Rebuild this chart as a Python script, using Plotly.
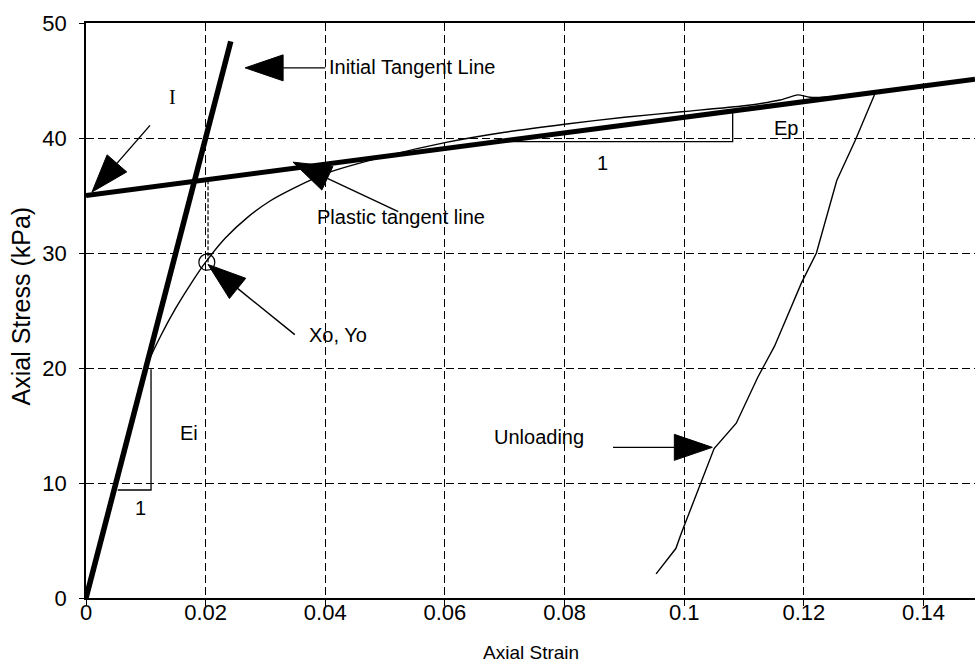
import plotly.graph_objects as go

# ---- data -------------------------------------------------------------
# measured stress-strain (loading branch)
load_strain = [0, 0.0100, 0.0125, 0.0150, 0.0175, 0.0200, 0.0233, 0.0270, 0.0307,
               0.0350, 0.0400, 0.0500, 0.0600, 0.0700, 0.0800, 0.0900, 0.1000,
               0.1100, 0.1160, 0.1190, 0.1210, 0.1250, 0.1320]
load_stress = [0, 20.0, 22.8, 25.2, 27.3, 29.2, 31.3, 33.1, 34.5,
               35.7, 36.9, 38.4, 39.6, 40.5, 41.2, 41.8, 42.3,
               42.8, 43.3, 43.75, 43.55, 43.6, 44.0]

# unloading branch
unload_strain = [0.1320, 0.1286, 0.1255, 0.1221, 0.1196, 0.1151, 0.1123, 0.1087,
                 0.1050, 0.1028, 0.0995, 0.0986, 0.0953]
unload_stress = [44.0, 39.8, 36.3, 30.0, 27.4, 21.9, 19.2, 15.2,
                 13.0, 10.1, 5.6, 4.3, 2.1]

# tangent lines
Ei = 2000.0          # initial tangent modulus (kPa)
Ei_end_strain = 0.0242
Ep = 68.0            # plastic tangent modulus (kPa)
Ep_intercept = 35.0  # stress intercept of plastic tangent (kPa)

# yield point (Xo, Yo)
xo, yo = 0.0202, 29.2

# slope triangles
ei_tri_x = [0.0053, 0.01087, 0.01087]
ei_tri_y = [9.39, 9.39, 19.9]
ep_tri_x = [0.0688, 0.1081, 0.1081]
ep_tri_y = [39.68, 39.68, 42.35]

x_ticks = [0, 0.02, 0.04, 0.06, 0.08, 0.1, 0.12, 0.14]
x_tick_text = ["0", "0.02", "0.04", "0.06", "0.08", "0.1", "0.12", "0.14"]
y_ticks = [0, 10, 20, 30, 40, 50]

# ---- layout geometry ---------------------------------------------------
W, H = 975, 665
ML, MR, MT, MB = 86, 0, 23, 67
XMAX = 0.14861
YMAX = 50.0
PW, PH = W - ML - MR, H - MT - MB


def to_px(x, y):
    return ML + x / XMAX * PW, MT + (1 - y / YMAX) * PH


def to_data(px, py):
    return (px - ML) / PW * XMAX, (1 - (py - MT) / PH) * YMAX


FONT = "Liberation Sans, Arial, sans-serif"

fig = go.Figure()

# initial tangent line
fig.add_trace(go.Scatter(x=[0, Ei_end_strain], y=[0, Ei * Ei_end_strain],
                         mode="lines", line=dict(color="black", width=5.5),
                         hoverinfo="skip"))
# plastic tangent line
fig.add_trace(go.Scatter(x=[0, XMAX], y=[Ep_intercept, Ep_intercept + Ep * XMAX],
                         mode="lines", line=dict(color="black", width=5),
                         hoverinfo="skip"))
# measured curve: loading (smoothed) and unloading
fig.add_trace(go.Scatter(x=load_strain, y=load_stress, mode="lines",
                         line=dict(color="black", width=1.4, shape="spline", smoothing=0.6),
                         hoverinfo="skip"))
fig.add_trace(go.Scatter(x=unload_strain, y=unload_stress, mode="lines",
                         line=dict(color="black", width=1.4), hoverinfo="skip"))
# slope triangles
fig.add_trace(go.Scatter(x=ei_tri_x, y=ei_tri_y, mode="lines",
                         line=dict(color="black", width=1.3), hoverinfo="skip"))
fig.add_trace(go.Scatter(x=ep_tri_x, y=ep_tri_y, mode="lines",
                         line=dict(color="black", width=1.3), hoverinfo="skip"))
# drop line from plastic tangent to the yield point
fig.add_trace(go.Scatter(x=[xo + 0.0002, xo + 0.0002],
                         y=[yo, Ep_intercept + Ep * xo],
                         mode="lines", line=dict(color="black", width=1.2, dash="4px,2px"),
                         hoverinfo="skip"))
# yield point marker
fig.add_trace(go.Scatter(x=[xo], y=[yo], mode="markers",
                         marker=dict(symbol="circle-open", size=16,
                                     line=dict(color="black", width=1.2), color="black"),
                         hoverinfo="skip"))

# ---- arrows (tail -> tip, data coords) --------------------------------
arrows = [
    ((0.0400, 46.1), (0.0266, 46.1)),   # Initial Tangent Line
    ((0.0107, 41.1), (0.0010, 35.3)),   # I
    ((0.0522, 33.6), (0.0346, 37.9)),   # Plastic tangent line
    ((0.0349, 22.9), (0.0204, 29.0)),   # Xo, Yo
    ((0.0881, 13.1), (0.1047, 13.1)),   # Unloading
]
HEAD_LEN, HEAD_HALF = 38.0, 13.0
shapes = []
for (tx, ty), (hx, hy) in arrows:
    x0, y0 = to_px(tx, ty)
    x1, y1 = to_px(hx, hy)
    dx, dy = x1 - x0, y1 - y0
    n = (dx * dx + dy * dy) ** 0.5
    ux, uy = dx / n, dy / n
    bx, by = x1 - ux * HEAD_LEN, y1 - uy * HEAD_LEN
    px_, py_ = -uy, ux
    c1 = to_data(bx + px_ * HEAD_HALF, by + py_ * HEAD_HALF)
    c2 = to_data(bx - px_ * HEAD_HALF, by - py_ * HEAD_HALF)
    base = to_data(bx, by)
    shapes.append(dict(type="line", x0=tx, y0=ty, x1=base[0], y1=base[1],
                       line=dict(color="black", width=1.4)))
    shapes.append(dict(type="path",
                       path=f"M{hx},{hy} L{c1[0]},{c1[1]} L{c2[0]},{c2[1]} Z",
                       fillcolor="black", line=dict(color="black", width=1)))

# ---- labels -------------------------------------------------------------
labels = [
    ("Initial Tangent Line", 0.04029, 46.17, "left", FONT, 20),
    ("Plastic tangent line", 0.03828, 33.13, "left", FONT, 20),
    ("Xo, Yo", 0.03689, 22.87, "left", FONT, 20),
    ("Ep", 0.11463, 40.84, "left", FONT, 20),
    ("1", 0.08634, 37.80, "center", FONT, 20),
    ("Ei", 0.01533, 14.32, "left", FONT, 20),
    ("1", 0.00903, 7.80, "center", FONT, 20),
    ("Unloading", 0.06782, 14.03, "left", FONT, 20),
    ("I", 0.01438, 43.57, "center", "Liberation Serif, Times New Roman, serif", 20),
]
annotations = []
for text, x, y, anchor, fam, size in labels:
    annotations.append(dict(text=text, x=x, y=y, xref="x", yref="y",
                            xanchor=anchor, yanchor="middle", showarrow=False,
                            font=dict(family=fam, size=size, color="black")))

# axis titles
annotations.append(dict(text="Axial Strain", xref="paper", yref="paper",
                        x=0.5, y=0, xanchor="center", yanchor="middle",
                        yshift=-54, showarrow=False,
                        font=dict(family=FONT, size=19, color="black")))
annotations.append(dict(text="Axial Stress (kPa)", xref="paper", yref="paper",
                        x=0, y=0.5, xanchor="center", yanchor="middle",
                        xshift=-66, yshift=4, textangle=-90, showarrow=False,
                        font=dict(family=FONT, size=25, color="black")))

grid = dict(showgrid=True, gridcolor="black", gridwidth=1.2, griddash="8px,4px")

fig.update_layout(
    width=W, height=H,
    margin=dict(l=ML, r=MR, t=MT, b=MB, pad=0),
    plot_bgcolor="white", paper_bgcolor="white",
    showlegend=False,
    shapes=shapes,
    annotations=annotations,
    xaxis=dict(range=[0, XMAX], tickvals=x_ticks, ticktext=x_tick_text,
               ticks="outside", ticklen=6, tickwidth=1.3, tickcolor="black",
               showline=True, linecolor="black", linewidth=1.6, mirror=True,
               zeroline=False, ticklabelstandoff=-12,
               tickfont=dict(family=FONT, size=22, color="black"), **grid),
    yaxis=dict(range=[0, YMAX], tickvals=y_ticks,
               ticks="outside", ticklen=5, tickwidth=1.3, tickcolor="black",
               showline=True, linecolor="black", linewidth=1.6, mirror=False,
               zeroline=False, ticklabelstandoff=8,
               tickfont=dict(family=FONT, size=22, color="black"), **grid),
)

fig.write_html("out.html")
